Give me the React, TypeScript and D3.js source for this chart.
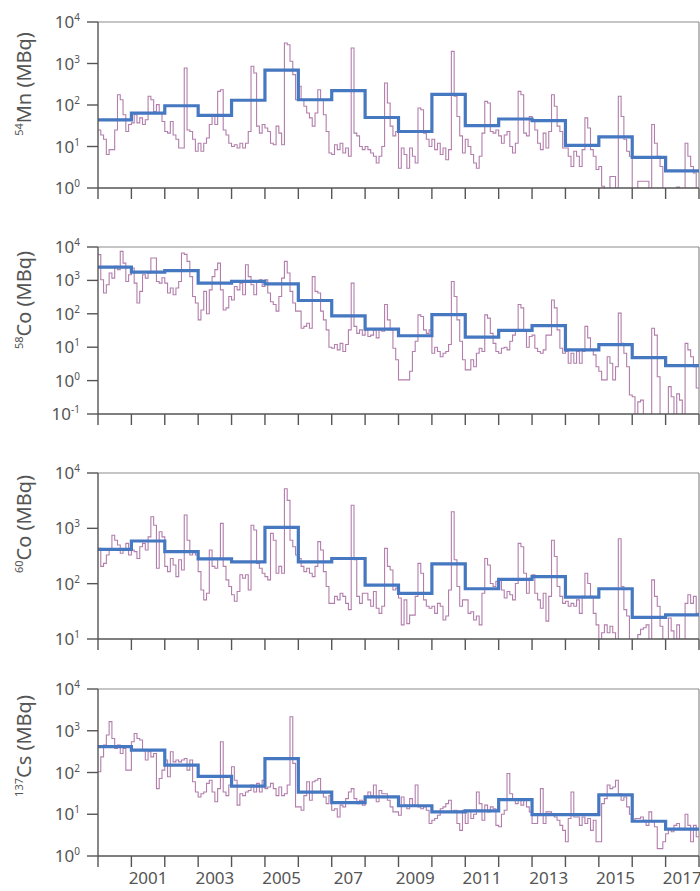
import React, { FC, useEffect, useRef } from "react"
import { curveStepAfter, line, scaleLinear, scaleLog, select } from "d3"

// fiscal years shown, one tick interval each
const years = [
  2000, 2001, 2002, 2003, 2004, 2005, 2006, 2007, 2008, 2009, 2010, 2011, 2012,
  2013, 2014, 2015, 2016, 2017,
]
const labelYears = [2001, 2003, 2005, 2007, 2009, 2011, 2013, 2015, 2017]
// the source prints "207" for 2007
const labelTexts = ["2001", "2003", "2005", "207", "2009", "2011", "2013", "2015", "2017"]

// monthly discharge (MBq), 12 values per year
const mnMonthly = [
  25, 19, 15, 6.4, 8.4, 8.4, 25, 177, 134, 58, 23, 34,
  37, 58, 37, 49, 34, 44, 162, 134, 70, 102, 64, 40,
  23, 21, 40, 19, 15, 9.2, 9.2, 780, 25, 23, 15, 7.7,
  12, 7.7, 12, 16, 34, 58, 34, 213, 234, 25, 19, 12,
  10, 11, 9.2, 12, 9.2, 12, 23, 855, 590, 31, 21, 34,
  28, 23, 12, 11, 31, 21, 11, 3120, 2840, 1130, 538, 134,
  282, 134, 93, 64, 49, 31, 64, 234, 134, 58, 23, 7,
  6.4, 11, 8.4, 12, 7, 9.2, 5.8, 2360, 21, 18, 10, 8.4,
  10, 8.4, 7, 5.8, 4, 5.8, 10, 339, 112, 31, 18, 23,
  3, 9.2, 6.4, 3, 9.2, 5.8, 4, 85, 77, 21, 15, 10,
  15, 8.4, 12, 6.4, 9.2, 4.8, 8.4, 1965, 162, 53, 18, 7,
  15, 10, 6.4, 4, 3, 5.8, 21, 122, 112, 23, 21, 25,
  18, 12, 19, 23, 10, 7, 12, 213, 177, 21, 18, 53,
  40, 25, 12, 8.4, 21, 9.2, 23, 177, 93, 31, 23, 9.2,
  9.2, 5.8, 3.3, 7.7, 5.8, 3.3, 8.4, 49, 28, 8.4, 5.8, 2.8,
  3.3, 1.1, 0.8, 0.8, 1.9, 1.9, 0.8, 162, 53, 15, 7.7, 5.8,
  0.8, 0.8, 1.45, 1.45, 1.45, 1.45, 0.8, 34, 12, 5.8, 3.3, 0.8,
  0.8, 0.8, 0.8, 0.8, 1.05, 0.8, 0.8, 12, 5.8, 3.3, 2.3, 0.7,
]
const co58Monthly = [
  5900, 1050, 420, 740, 1660, 1170, 2630, 2100, 7400, 3300, 930, 1480,
  2340, 830, 210, 470, 1480, 1170, 1660, 4700, 4700, 930, 830, 1200,
  830, 420, 590, 370, 590, 930, 6600, 6000, 3700, 1300, 330, 210,
  66, 130, 470, 100, 520, 1300, 2100, 3300, 520, 130, 150, 330,
  260, 660, 520, 830, 370, 2950, 1300, 740, 370, 930, 1050, 660,
  1050, 420, 230, 190, 120, 330, 1170, 3700, 1660, 470, 210, 120,
  120, 37, 42, 52, 37, 1300, 470, 420, 120, 66, 33, 10,
  9.3, 12, 8.3, 13, 7.4, 12, 33, 830, 42, 26, 33, 23,
  33, 21, 23, 33, 19, 33, 30, 190, 66, 33, 9.3, 4.2,
  1.05, 1.05, 1.05, 1.05, 1.9, 7.4, 15, 93, 83, 33, 26, 33,
  6.6, 10, 7.4, 5.2, 6.6, 7.4, 12, 930, 330, 66, 15, 4.2,
  2.1, 2.1, 4.2, 2.6, 6.6, 9.3, 7.4, 93, 74, 26, 13, 7.4,
  6.6, 9.3, 10, 8.3, 15, 23, 33, 190, 150, 33, 10, 21,
  23, 9.3, 7.4, 6.6, 8.3, 23, 23, 260, 150, 33, 9.3, 6.6,
  7.4, 3.3, 6.6, 3.3, 7.4, 3.3, 7.4, 42, 19, 8.3, 5.9, 2.6,
  1.9, 1.05, 1.05, 5.2, 3.3, 1.05, 2.6, 105, 13, 6.6, 2.6, 0.37,
  0.33, 0.08, 0.23, 0.26, 0.08, 0.08, 0.08, 37, 23, 1.3, 0.08, 0.08,
  0.08, 0.66, 0.33, 0.08, 0.4, 0.26, 0.08, 13, 8.3, 5.2, 2.6, 0.6,
]
const co60Monthly = [
  435, 205, 233, 330, 405, 750, 610, 500, 355, 405, 535, 330,
  405, 380, 285, 465, 535, 405, 700, 1620, 1140, 190, 870, 700,
  205, 165, 285, 218, 134, 270, 177, 1740, 610, 330, 380, 330,
  165, 77, 51, 67, 405, 205, 190, 285, 1230, 205, 117, 89,
  63, 48, 72, 145, 125, 145, 77, 1140, 935, 233, 190, 154,
  134, 117, 810, 610, 154, 205, 154, 5200, 3200, 610, 465, 330,
  285, 205, 165, 190, 154, 134, 205, 575, 405, 165, 89, 44,
  44, 59, 51, 67, 59, 44, 34, 2620, 270, 59, 44, 67,
  67, 51, 39, 72, 36, 29, 39, 435, 205, 177, 77, 83,
  55, 18, 51, 19, 27, 27, 59, 233, 154, 51, 39, 36,
  39, 29, 44, 39, 22, 26, 77, 2000, 270, 89, 39, 51,
  51, 29, 31, 22, 26, 18, 67, 285, 218, 101, 89, 110,
  117, 77, 55, 72, 63, 51, 101, 535, 465, 154, 67, 125,
  145, 67, 51, 36, 67, 21, 59, 610, 310, 89, 59, 44,
  48, 39, 44, 39, 51, 29, 59, 154, 101, 59, 29, 18,
  9, 13, 18, 13, 17, 13, 9, 650, 89, 34, 26, 9,
  8, 8, 12, 15, 16, 18, 8, 117, 59, 39, 17, 8,
  8, 24, 14, 8, 18, 8, 8, 44, 63, 44, 59, 29,
]
const cs137Monthly = [
  104, 237, 455, 790, 1650, 650, 375, 455, 285, 375, 114, 114,
  545, 860, 650, 600, 345, 200, 315, 237, 285, 41, 72, 114,
  200, 79, 315, 180, 200, 180, 200, 216, 114, 200, 60, 34,
  26, 31, 34, 55, 65, 34, 20, 41, 545, 34, 28, 50,
  137, 65, 16.5, 31, 28, 34, 37, 50, 34, 55, 34, 65,
  41, 45, 55, 41, 28, 45, 28, 31, 50, 2170, 165, 15,
  15, 12.5, 28, 60, 21.7, 60, 65, 72, 34, 26, 18, 28,
  12.5, 13.6, 8.6, 16.5, 15, 23.7, 34, 41, 23.7, 18, 21.7, 16.5,
  26, 34, 28, 50, 20, 37, 31, 31, 21.7, 15, 11.4, 11.4,
  9.5, 26, 16.5, 13.6, 23.7, 16.5, 50, 15, 13.6, 15, 12.5, 6,
  7.2, 7.9, 9.5, 13.6, 15, 18, 21.7, 11.4, 12.5, 6, 4.1, 12.5,
  6, 12.5, 7.9, 10, 34, 18, 7.2, 16.5, 11.4, 15, 13.6, 5.4,
  5, 10, 12.5, 95, 31, 23.7, 18, 21.7, 16.5, 21.7, 15, 11.4,
  6, 6, 10, 41, 6, 11.4, 11.4, 10, 8.6, 7.2, 5.4, 4.1,
  2.2, 7.9, 34, 8.6, 8.6, 5.4, 8.6, 6, 7.9, 4.1, 7.2, 2.2,
  2.2, 18, 23.7, 50, 41, 45, 65, 31, 21.7, 26, 15, 10,
  7.2, 7.9, 7.9, 8.6, 7.2, 5.4, 11.4, 6.6, 5, 1.5, 1.5, 2.2,
  3.4, 4.5, 3.8, 5.4, 6, 4.5, 4.5, 10, 5.4, 2.2, 5.4, 2.9,
]

// annual discharge (MBq), one value per year
const mnAnnual = [44, 64, 96, 56, 130, 690, 134, 222, 50, 23, 180, 32, 46, 42, 10.7, 17, 5.5, 2.6]
const co58Annual = [2500, 1780, 1950, 830, 930, 790, 250, 87, 35, 22, 95, 20, 32, 44, 8.3, 12, 4.9, 2.8]
const co60Annual = [415, 590, 380, 280, 247, 1045, 247, 285, 94, 67, 228, 81, 120, 134, 57, 81, 24.5, 27.4]
const cs137Annual = [415, 345, 150, 81, 47, 216, 34, 19, 26, 16, 11.4, 12, 22.5, 9.8, 9.8, 29, 6.8, 4.4]

const massNumbers = ["54", "58", "60", "137"]
const elements = ["Mn", "Co", "Co", "Cs"]
const minExponents = [0, -1, 1, 0]
const maxExponent = 4

const monthlySeries = [mnMonthly, co58Monthly, co60Monthly, cs137Monthly]
const annualSeries = [mnAnnual, co58Annual, co60Annual, cs137Annual]

type P = [number, number]

const App: FC = () => {
  const svgRef = useRef<SVGSVGElement>(null)

  useEffect(() => {
    const element = svgRef.current
    if (!element) return
    const svg = select(element)
    svg.selectAll("*").remove()

    // 1. dimensions
    const width = 700
    const height = 891
    const plotLeft = 98
    const plotRight = 699
    const panels = [
      { top: 22, bottom: 188, titleY: 84 },
      { top: 247, bottom: 414, titleY: 300 },
      { top: 473, bottom: 639, titleY: 524 },
      { top: 689, bottom: 856, titleY: 746 },
    ]
    const tickLen = 11
    const axisColor = "#555"
    const boxColor = "#8c8c8c"
    const textColor = "#555"
    const font = "'Noto Sans', 'Open Sans', sans-serif"

    svg.attr("width", width).attr("height", height)

    // 2. x scale (shared)
    const firstYear = years[0]
    const lastYear = years[years.length - 1] + 1
    const xScale = scaleLinear().domain([firstYear, lastYear]).range([plotLeft, plotRight])
    const tickYears = [...years, lastYear]

    panels.forEach((panel, pi) => {
      const minExp = minExponents[pi]
      const yScale = scaleLog()
        .domain([Math.pow(10, minExp), Math.pow(10, maxExponent)])
        .range([panel.bottom, panel.top])
      const g = svg.append("g")

      const clipId = `clip-${pi}`
      g.append("clipPath")
        .attr("id", clipId)
        .append("rect")
        .attr("x", plotLeft)
        .attr("y", panel.top - 2)
        .attr("width", plotRight - plotLeft)
        .attr("height", panel.bottom - panel.top + 2)

      // box (top & right)
      g.append("line")
        .attr("x1", plotLeft).attr("x2", plotRight)
        .attr("y1", panel.top).attr("y2", panel.top)
        .attr("stroke", boxColor).attr("stroke-width", 1.2)
      g.append("line")
        .attr("x1", plotRight).attr("x2", plotRight)
        .attr("y1", panel.top).attr("y2", panel.bottom)
        .attr("stroke", boxColor).attr("stroke-width", 1.2)

      // 3. series
      const monthly: P[] = monthlySeries[pi].map((v, i) => [firstYear + i / 12, v] as P)
      monthly.push([lastYear, monthlySeries[pi][monthlySeries[pi].length - 1]])
      const annual: P[] = annualSeries[pi].map((v, i) => [years[i], v] as P)
      annual.push([lastYear, annualSeries[pi][annualSeries[pi].length - 1]])

      const stepLine = line<P>()
        .x((d) => xScale(d[0]))
        .y((d) => yScale(d[1]))
        .curve(curveStepAfter)

      const plot = g.append("g").attr("clip-path", `url(#${clipId})`)
      plot.append("path")
        .attr("d", stepLine(monthly) ?? "")
        .attr("fill", "none")
        .attr("stroke", "#b27eab")
        .attr("stroke-width", 1.1)
      plot.append("path")
        .attr("d", stepLine(annual) ?? "")
        .attr("fill", "none")
        .attr("stroke", "#4677c1")
        .attr("stroke-width", 3.2)

      // 4. axes
      g.append("line")
        .attr("x1", plotLeft).attr("x2", plotLeft)
        .attr("y1", panel.top).attr("y2", panel.bottom)
        .attr("stroke", axisColor).attr("stroke-width", 1.4)
      g.append("line")
        .attr("x1", plotLeft).attr("x2", plotRight)
        .attr("y1", panel.bottom).attr("y2", panel.bottom)
        .attr("stroke", axisColor).attr("stroke-width", 1.4)

      g.selectAll(".xtick")
        .data(tickYears)
        .join("line")
        .attr("x1", (d) => xScale(d)).attr("x2", (d) => xScale(d))
        .attr("y1", panel.bottom).attr("y2", panel.bottom + tickLen)
        .attr("stroke", axisColor).attr("stroke-width", 1.4)

      const exps: number[] = []
      for (let e = minExp; e <= maxExponent; e++) exps.push(e)

      g.selectAll(".ytick")
        .data(exps)
        .join("line")
        .attr("x1", plotLeft - tickLen).attr("x2", plotLeft)
        .attr("y1", (e) => yScale(Math.pow(10, e)))
        .attr("y2", (e) => yScale(Math.pow(10, e)))
        .attr("stroke", axisColor).attr("stroke-width", 1.4)

      const yLabels = g.selectAll(".ylab")
        .data(exps)
        .join("text")
        .attr("x", 80)
        .attr("y", (e) => yScale(Math.pow(10, e)) + 6)
        .attr("text-anchor", "end")
        .attr("fill", textColor)
        .style("font-family", font)
        .style("font-size", "17px")
      yLabels.append("tspan").text("10")
      yLabels.append("tspan")
        .attr("dy", -7)
        .style("font-size", "10px")
        .text((e) => String(e))

      // 5. title
      const title = g.append("text")
        .attr("transform", `translate(31, ${panel.titleY}) rotate(-90)`)
        .attr("text-anchor", "middle")
        .attr("fill", textColor)
        .style("font-family", font)
        .style("font-size", "20px")
      title.append("tspan")
        .attr("dy", -8)
        .style("font-size", "11px")
        .text(massNumbers[pi])
      title.append("tspan")
        .attr("dy", 8)
        .text(`${elements[pi]} (MBq)`)

      // 6. x labels, bottom panel only
      if (pi === panels.length - 1) {
        g.selectAll(".xlab")
          .data(labelYears)
          .join("text")
          .attr("x", (d) => xScale(d + 0.5))
          .attr("y", 884)
          .attr("text-anchor", "middle")
          .attr("fill", textColor)
          .style("font-family", font)
          .style("font-size", "17px")
          .text((_, i) => labelTexts[i])
      }
    })
  }, [])

  return (
    <svg
      ref={svgRef}
      style={{ position: "absolute", left: 0, top: 0, background: "#fff" }}
    />
  )
}

export default App
